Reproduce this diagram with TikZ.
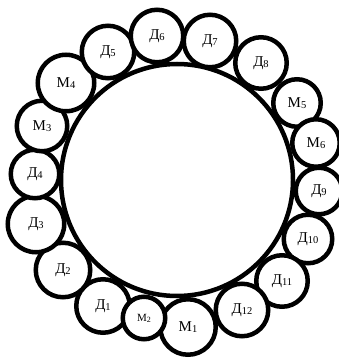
\documentclass[tikz,border=0pt]{standalone}
\usepackage{fontspec}
\setmainfont{Liberation Serif}
\newcommand{\idx}[1]{\raisebox{-1.5pt}{\fontsize{10.5}{10.5}\selectfont #1}}
\begin{document}
\begin{tikzpicture}[x=1pt, y=-1pt, line width=4.5pt,
  roller/.style={circle, draw, fill=white, inner sep=0pt, font=\fontsize{15}{15}\selectfont}]
\useasboundingbox (0,0) rectangle (338,358);

% central drum
\node[circle, draw, minimum size=232pt, inner sep=0pt] (drum) at (177,180) {};

% rollers round the drum
\foreach \x/\y/\d/\n/\l/\s in {
    103/306/53.5/d1/Д/1, 63/270/54.5/d2/Д/2, 36/224/56.5/d3/Д/3,
    35/174/48.5/d4/Д/4, 42/126/50.5/m3/М/3, 66/83/56.5/m4/М/4,
    108/52/52.5/d5/Д/5, 157/36/52.5/d6/Д/6, 210/41/52.5/d7/Д/7,
    261/63/51.5/d8/Д/8, 297/103/47.5/m5/М/5, 316/143/47.5/m6/М/6,
    319/191/46.5/d9/Д/9, 308/239/48.5/d10/Д/10, 282/281/51.5/d11/Д/11,
    242/310/52.5/d12/Д/12, 188/327/55.5/m1/М/1}
  \node[roller, minimum size=\d pt] (\n) at (\x,\y) {\l\idx{\s}};
\node[roller, minimum size=42.5pt, font=\fontsize{11}{11}\selectfont] (m2) at (144,318)
  {М\raisebox{-1pt}{\fontsize{8}{8}\selectfont 2}};

\end{tikzpicture}
\end{document}
